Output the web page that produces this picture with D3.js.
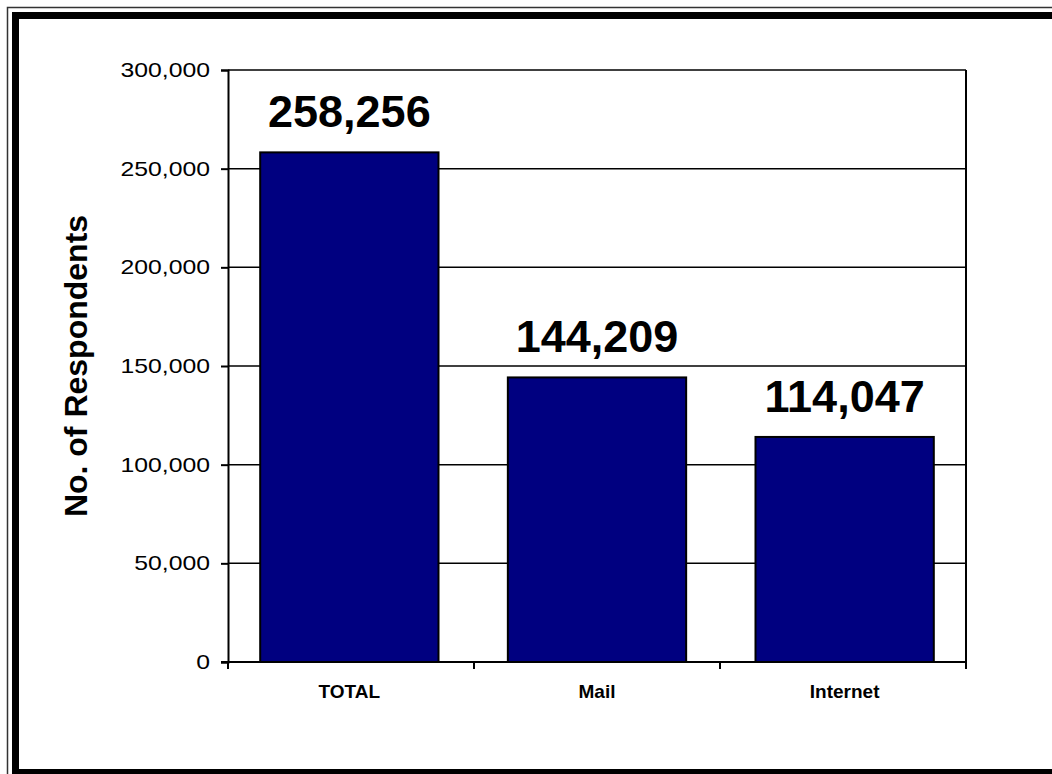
<!DOCTYPE html>
<html>
<head>
<meta charset="utf-8">
<script src="https://cdn.jsdelivr.net/npm/d3@7"></script>
<style>
  body { margin: 0; background: #fff; overflow: hidden; }
  svg { display: block; }
</style>
</head>
<body>
<div id="chart"></div>
<script>
const categories = ["TOTAL", "Mail", "Internet"];
const respondents = [258256, 144209, 114047];
const yTicks = [0, 50000, 100000, 150000, 200000, 250000, 300000];

const width = 1052, height = 774;
const plotLeft = 228, plotRight = 966, plotTop = 70, plotBottom = 662;

const svg = d3.select("#chart").append("svg")
  .attr("width", width)
  .attr("height", height);

// double frame (runs off the right edge like the original)
svg.append("rect")
  .attr("x", 7.5).attr("y", 7.5)
  .attr("width", 1100).attr("height", 800)
  .attr("fill", "none").attr("stroke", "#333").attr("stroke-width", 1.5);
svg.append("rect")
  .attr("x", 15.5).attr("y", 15.5)
  .attr("width", 1100).attr("height", 757)
  .attr("fill", "none").attr("stroke", "#000").attr("stroke-width", 7);

const x = d3.scaleBand()
  .domain(categories)
  .range([plotLeft, plotRight])
  .paddingInner(0.28)
  .paddingOuter(0.13);

// category boundaries for the x ticks
const xEdge = d3.scaleLinear()
  .domain([0, categories.length])
  .range([plotLeft, plotRight]);

const y = d3.scaleLinear()
  .domain([0, 300000])
  .range([plotBottom, plotTop]);

const fmt = d3.format(",");

// gridlines
svg.append("g")
  .selectAll("line")
  .data(yTicks.slice(1))
  .join("line")
  .attr("x1", plotLeft).attr("x2", plotRight)
  .attr("y1", d => y(d)).attr("y2", d => y(d))
  .attr("stroke", "#000").attr("stroke-width", 1.5);

// right border of plot
svg.append("line")
  .attr("x1", plotRight).attr("x2", plotRight)
  .attr("y1", plotTop).attr("y2", plotBottom)
  .attr("stroke", "#000").attr("stroke-width", 2);

// bars
svg.append("g")
  .selectAll("rect")
  .data(respondents)
  .join("rect")
  .attr("x", (d, i) => x(categories[i]))
  .attr("y", d => y(d))
  .attr("width", x.bandwidth())
  .attr("height", d => y(0) - y(d))
  .attr("fill", "#000080")
  .attr("stroke", "#000").attr("stroke-width", 2);

// value labels
svg.append("g")
  .selectAll("text")
  .data(respondents)
  .join("text")
  .attr("x", (d, i) => x(categories[i]) + x.bandwidth() / 2)
  .attr("y", d => y(d) - 25)
  .attr("text-anchor", "middle")
  .style("font-family", "'Liberation Sans', Arial, sans-serif")
  .style("font-weight", "bold")
  .style("font-size", "45px")
  .text(d => fmt(d));

// y axis (labels are a bit wide in the original, so stretch them)
const yAxis = svg.append("g")
  .attr("transform", `translate(${plotLeft},0)`)
  .call(d3.axisLeft(y).tickValues(yTicks).tickFormat(fmt).tickSize(7));
yAxis.select(".domain").attr("stroke-width", 2);
yAxis.selectAll(".tick line").attr("stroke-width", 2);
yAxis.selectAll("text")
  .attr("x", -14.5)
  .attr("transform", "scale(1.24,1)")
  .style("font-family", "'Liberation Sans', Arial, sans-serif")
  .style("font-size", "20px")
  .attr("fill", "#000");

// x axis: ticks at category boundaries
const xAxis = svg.append("g");
xAxis.append("line")
  .attr("x1", plotLeft - 7).attr("x2", plotRight)
  .attr("y1", plotBottom).attr("y2", plotBottom)
  .attr("stroke", "#000").attr("stroke-width", 2);
xAxis.selectAll(".bnd")
  .data(d3.range(categories.length + 1))
  .join("line")
  .attr("class", "bnd")
  .attr("x1", i => xEdge(i))
  .attr("x2", i => xEdge(i))
  .attr("y1", plotBottom).attr("y2", plotBottom + 7)
  .attr("stroke", "#000").attr("stroke-width", 2);
xAxis.selectAll("text")
  .data(categories)
  .join("text")
  .attr("x", d => x(d) + x.bandwidth() / 2)
  .attr("y", 698)
  .attr("text-anchor", "middle")
  .style("font-family", "'Liberation Sans', Arial, sans-serif")
  .style("font-weight", "bold")
  .style("font-size", "19px")
  .text(d => d);

// y title
svg.append("text")
  .attr("transform", `translate(87,${(plotTop + plotBottom) / 2}) rotate(-90)`)
  .attr("text-anchor", "middle")
  .style("font-family", "'Liberation Sans', Arial, sans-serif")
  .style("font-weight", "bold")
  .style("font-size", "32px")
  .text("No. of Respondents");
</script>
</body>
</html>
